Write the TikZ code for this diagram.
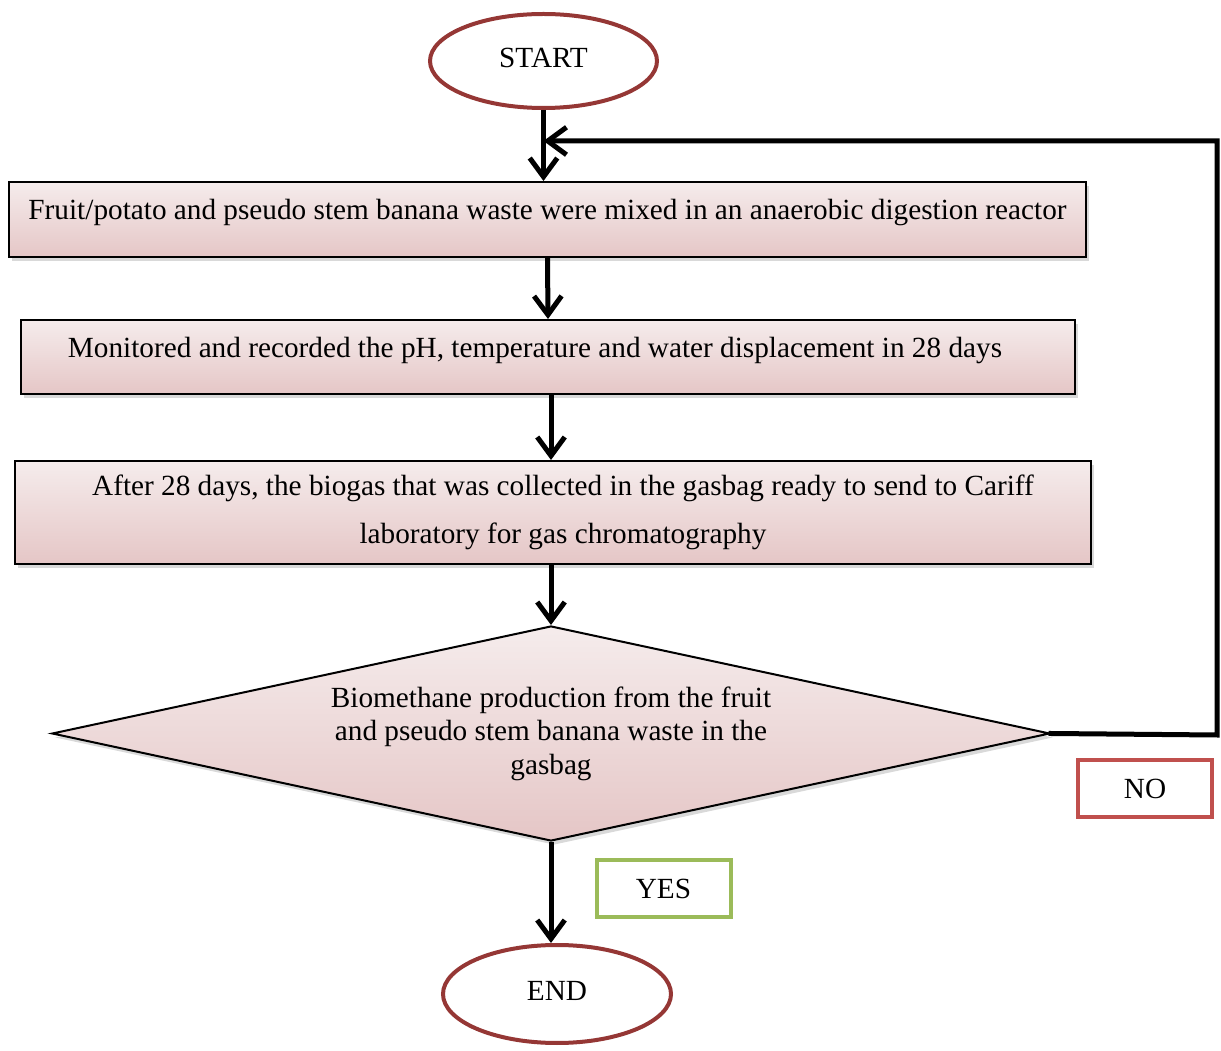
\documentclass[tikz,border=0pt]{standalone}
\usepackage{fontspec}
\setmainfont{Liberation Serif}
\usetikzlibrary{shapes.geometric,shadows,arrows.meta}
\definecolor{termred}{RGB}{149,55,53}
\definecolor{nored}{RGB}{192,80,77}
\definecolor{yesgreen}{RGB}{155,187,89}
\definecolor{rosetop}{RGB}{245,236,236}
\definecolor{rosebot}{RGB}{229,198,198}

\begin{document}
\begin{tikzpicture}[x=0.4pt,y=-0.4pt,
  font=\fontsize{11.7}{14}\selectfont,
  term/.style={ellipse,draw=termred,line width=1.6pt,inner sep=0pt},
  procbox/.style={rectangle,draw=black,line width=0.8pt,top color=rosetop,bottom color=rosebot,
    inner sep=0pt,drop shadow={opacity=0.3,shadow xshift=1.2pt,shadow yshift=-1.6pt}},
  decide/.style={diamond,draw=black,line width=0.8pt,top color=rosetop,bottom color=rosebot,
    inner sep=0pt,aspect=4.64,drop shadow={opacity=0.3,shadow xshift=1.2pt,shadow yshift=-1.6pt}},
  answer/.style={rectangle,line width=1.6pt,fill=white,inner sep=0pt,minimum width=53.6pt,minimum height=22.8pt},
  flow/.style={line width=2pt,-{Straight Barb[length=7.5pt,width=11pt,line width=2pt]}}]
\useasboundingbox (0,0) rectangle (1221,1051);
%% nodes
\node[term,minimum width=90.8pt,minimum height=37.6pt] (start) at (543.5,61) {\raisebox{2.6pt}{START}};
\node[procbox,minimum width=430.8pt,text height=15.2pt,text depth=14.8pt] (mix) at (547.5,219.5)
  {Fruit/potato and pseudo stem banana waste were mixed in an anaerobic digestion reactor};
\node[procbox,minimum width=421.6pt,text height=15pt,text depth=14.6pt] (monitor) at (548,357)
  {\hspace*{-10.4pt}Monitored and recorded the pH, temperature and water displacement in 28 days};
\node[procbox,minimum width=430.4pt,minimum height=41.2pt,align=center,
  font=\fontsize{11.7}{19.2}\selectfont] (collect) at (553,512.5)
  {\hspace*{8pt}After 28 days, the biogas that was collected in the gasbag ready to send to Cariff\\
   \hspace*{8pt}laboratory for gas chromatography};
\node[decide,minimum width=399.2pt,minimum height=86pt,align=center,
  font=\fontsize{11.7}{13.4}\selectfont] (check) at (551,733.5)
  {Biomethane production from the fruit\\and pseudo stem banana waste in the\\gasbag};
\node[answer,draw=nored] (no) at (1145,788.5) {NO};
\node[answer,draw=yesgreen] (yes) at (663.5,888.5) {YES};
\node[term,minimum width=91.2pt,minimum height=39.2pt] (end) at (557,994) {\raisebox{2.2pt}{END}};
\coordinate (loopR) at (1217,735);
\coordinate (loopT) at (1217,141);
%%% edges
\draw[flow] (start.south) -- (start.south |- mix.north);
\draw[flow] (mix.south) -- (monitor.north);
\draw[flow] (monitor.south -| check.north) -- (collect.north -| check.north);
\draw[flow] (collect.south -| check.north) -- (check.north);
\draw[flow] (check.south) -- (check.south |- end.north);
\draw[flow,line cap=rect] (check.east) -- (loopR) -- (loopT) -- (loopT -| start.south);
\end{tikzpicture}
\end{document}
